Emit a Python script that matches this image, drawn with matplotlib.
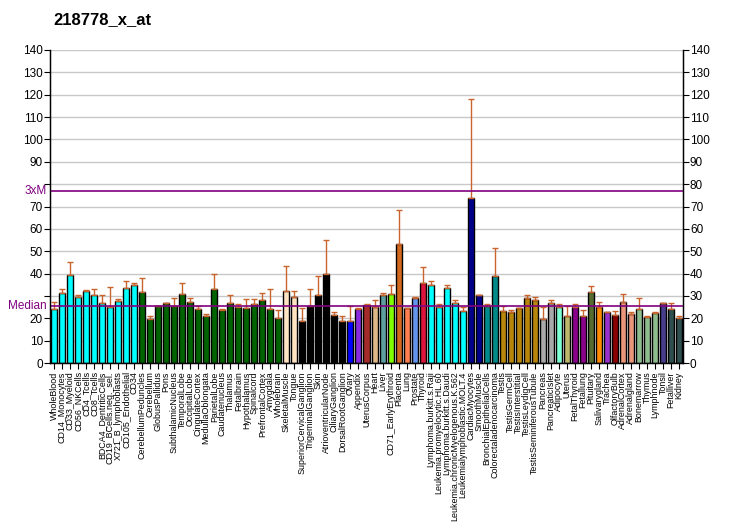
import matplotlib
matplotlib.use("Agg")
import matplotlib.pyplot as plt
import numpy as np

plt.rcParams['font.family'] = ['Liberation Sans', 'DejaVu Sans']

title = "218778_x_at"

labels = ["WholeBlood", "CD14_Monocytes", "CD33_Myeloid", "CD56_NKCells", "CD4_Tcells",
          "CD8_Tcells", "BDCA4_DentriticCells", "CD19_BCells.neg._sel.", "X721_B_lymphoblasts",
          "CD105_Endothelial", "CD34", "CerebellumPeduncles", "Cerebellum", "GlobusPallidus",
          "Pons", "SubthalamicNucleus", "TemporalLobe", "OccipitalLobe", "CingulateCortex",
          "MedullaOblongata", "ParietalLobe", "Caudatenucleus", "Thalamus", "Fetalbrain",
          "Hypothalamus", "Spinalcord", "PrefrontalCortex", "Amygdala", "Wholebrain",
          "SkeletalMuscle", "Tongue", "SuperiorCervicalGanglion", "TrigeminalGanglion", "Skin",
          "AtrioventricularNode", "CiliaryGanglion", "DorsalRootGanglion", "Ovary", "Appendix",
          "UterusCorpus", "Heart", "Liver", "CD71_EarlyErythroid", "Placenta", "Lung",
          "Prostate", "Thyroid", "Lymphoma.burkitt.s.Raji", "Leukemia.promyelocytic.HL.60",
          "Lymphoma.burkitt.s.Daudi", "Leukemia.chronicMyelogenous.K.562",
          "Leukemialymphoblastic.MOLT.4", "CardiacMyocytes", "SmoothMuscle",
          "BronchialEpithelialCells", "Colorectaladenocarcinoma", "Testis", "TestisGermCell",
          "TestisInterstitial", "TestisLeydigCell", "TestisSeminiferousTubule", "Pancreas",
          "PancreaticIslet", "Adipocyte", "Uterus", "FetalThyroid", "Fetallung", "Pituitary",
          "Salivarygland", "Trachea", "OlfactoryBulb", "AdrenalCortex", "Adrenalgland",
          "Bonemarrow", "Thymus", "Lymphnode", "Tonsil", "Fetalliver", "Kidney"]

values = [24.1, 31.2, 39.3, 29.4, 32.1, 30.2, 26.8, 25.0, 27.7, 33.5, 34.8,
          31.7, 19.6, 25.4, 26.8, 25.4, 30.8, 27.2, 24.1, 20.9, 33.0, 23.6, 26.8, 25.0,
          24.5, 26.3, 28.1, 24.1, 20.0,
          32.1, 29.4, 18.7, 25.3, 30.3, 39.8, 21.4, 18.7, 18.7, 24.1, 25.9, 25.0, 30.3,
          30.8, 53.2, 24.5, 29.0, 35.7, 34.8, 25.0, 33.5, 26.8, 23.2, 73.8, 30.3, 25.3,
          38.9, 23.2, 22.7, 24.5, 29.0, 28.1, 19.6, 26.8, 25.0, 20.9, 25.0, 20.9, 31.7,
          25.0, 22.7, 21.4, 27.2, 21.8, 24.1, 20.5, 22.3, 26.8, 24.1, 20.0]

err_top = [27.4, 33.0, 45.0, 30.2, 32.6, 33.0, 30.2, 34.2, 28.6, 36.6, 36.0,
           38.0, 21.2, 25.7, 26.8, 29.0, 35.6, 29.0, 25.7, 22.1, 39.6, 24.1, 30.6, 26.2,
           28.6, 28.6, 31.1, 33.0, 23.5,
           43.2, 32.0, 24.4, 32.9, 38.7, 54.9, 23.0, 21.2, 25.3, 24.8, 26.2, 28.0, 31.5,
           35.1, 68.3, 24.5, 29.4, 42.8, 36.5, 26.2, 34.7, 28.0, 25.1, 118.1, 30.3, 26.2,
           51.3, 25.3, 23.5, 24.5, 30.2, 29.3, 25.0, 28.1, 26.2, 25.7, 26.2, 23.6, 34.4,
           27.2, 22.7, 23.2, 30.8, 22.7, 29.0, 20.9, 22.7, 26.8, 26.8, 20.9]

colors = (["#00FFFF"] * 11 + ["#006400"] * 18 + ["#FFE4C4"] * 2 + ["#000000"] * 6 +
          ["#0000FF", "#8A2BE2", "#A52A2A", "#DEB887", "#5F9EA0", "#7FFF00", "#D2691E",
           "#FF7F50", "#6495ED", "#DC143C"] + ["#00FFFF"] * 5 + ["#00008B"] * 2 +
          ["#008B8B"] * 2 + ["#B8860B"] * 5 + ["#A9A9A9"] * 2 +
          ["#7FFFD4", "#BDB76B", "#8B008B", "#8B008B", "#556B2F", "#FF8C00", "#9932CC",
           "#8B0000", "#E9967A", "#E9967A", "#8FBC8F", "#8FBC8F", "#8FBC8F", "#483D8B",
           "#2F4F4F", "#2F4F4F"])

median_val = 25.6
three_xm = 76.8

fig = plt.figure(figsize=(7.32, 5.30), dpi=100)
ax = fig.add_axes([50 / 732, 1 - 363 / 530, 633 / 732, 313 / 530])

x = np.arange(len(values))
vals = np.array(values)
errs = np.array(err_top) - vals

for y in range(10, 150, 10):
    ax.axhline(y, color="#C8C8C8", lw=1, zorder=0)

ax.bar(x, vals, width=0.75, color=colors, edgecolor="black", linewidth=1, zorder=2)
ax.errorbar(x, vals, yerr=[np.zeros_like(errs), errs], fmt="none", ecolor="#C8642D",
            elinewidth=1, capsize=2.5, capthick=1, zorder=3)

ax.axhline(median_val, color="#800080", lw=1.2, zorder=4)
ax.axhline(three_xm, color="#800080", lw=1.2, zorder=4)

ax.set_xlim(-0.5, len(values) - 0.5)
ax.set_ylim(0, 140)
ax.spines['top'].set_visible(False)
for s in ['left', 'right', 'bottom']:
    ax.spines[s].set_linewidth(1)

ax.set_xticks(x)
ax.set_xticklabels(labels, rotation=90, fontsize=6.4)
ax.tick_params(axis='x', length=4, pad=2)

yt = list(range(0, 150, 10))
ax.set_yticks(yt)
ax.set_yticklabels(["" if v in (30, 80) else str(v) for v in yt], fontsize=8.5)
ax.tick_params(axis='y', length=4, pad=1)

ax2 = ax.twinx()
ax2.set_ylim(0, 140)
ax2.set_yticks(yt)
ax2.set_yticklabels([str(v) for v in yt], fontsize=8.5)
ax2.tick_params(axis='y', length=4, pad=1)
ax2.spines['top'].set_visible(False)

ax.text(-0.9, three_xm, "3xM", color="#800080", fontsize=8.5, ha="right", va="center",
        clip_on=False)
ax.text(-0.9, median_val, "Median", color="#800080", fontsize=8.5, ha="right", va="center",
        clip_on=False)

fig.text(53 / 732, 1 - 20 / 530, title, fontsize=12, fontweight="bold", ha="left", va="center")

fig.savefig("out.png", dpi=100)
